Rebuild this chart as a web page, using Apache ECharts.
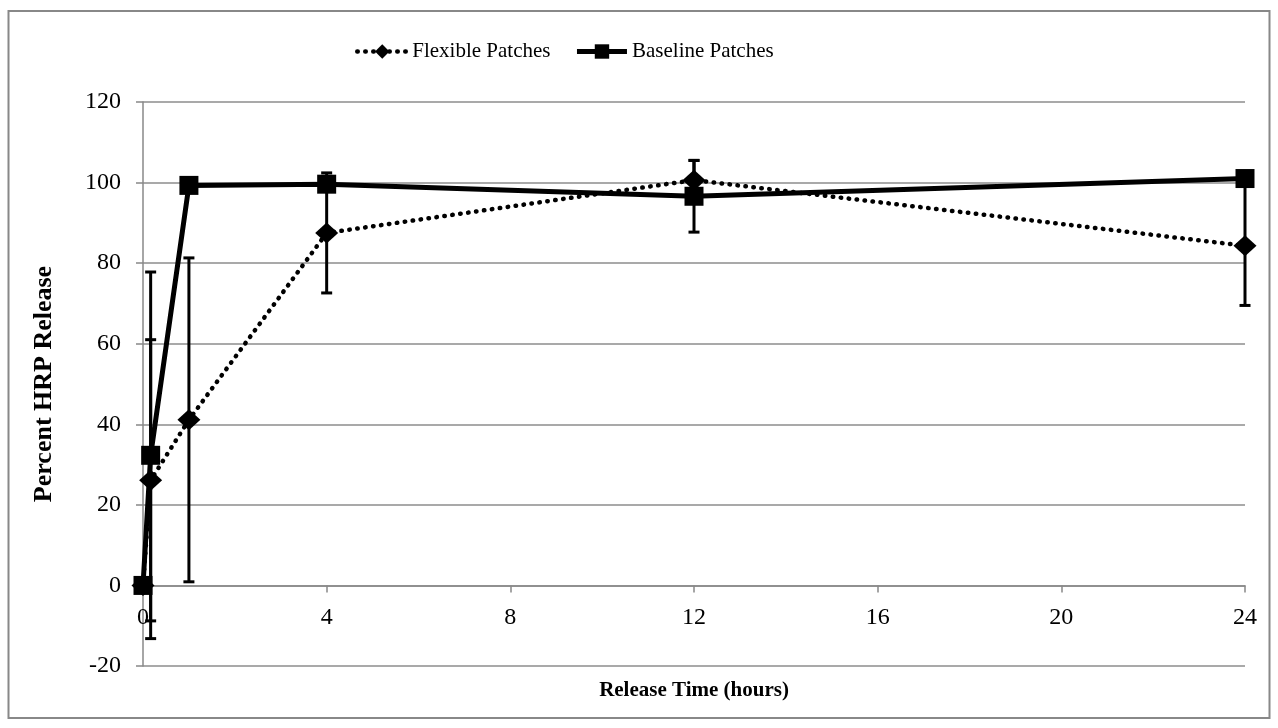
<!DOCTYPE html>
<html>
<head>
<meta charset="utf-8">
<script src="https://cdn.jsdelivr.net/npm/echarts@6/dist/echarts.min.js"></script>
<style>
  html, body { margin: 0; padding: 0; background: #fff; }
  #main { width: 1278px; height: 728px; }
</style>
</head>
<body>
<div id="main"></div>
<script>
  // release times in hours (first sample taken at 10 min)
  var times = [0, 1 / 6, 1, 4, 12, 24];
  var xTicks = [0, 4, 8, 12, 16, 20, 24];

  var flexible = [0, 26.1, 41.1, 87.5, 100.6, 84.3];
  var flexibleErr = [0, 34.9, 40.2, 14.9, 4.9, 14.8];

  var baseline = [0, 32.3, 99.3, 99.6, 96.6, 101.0];
  var baselineErr = [0, 45.5, 1.5, 1.5, 8.9, 1.5];

  var font = 'Liberation Serif';

  function pairs(ys) {
    return times.map(function (t, i) { return [t, ys[i]]; });
  }
  function bars(ys, errs) {
    return times.map(function (t, i) { return [t, ys[i] - errs[i], ys[i] + errs[i]]; });
  }

  function drawErr(params, api) {
    var lo = api.coord([api.value(0), api.value(1)]);
    var hi = api.coord([api.value(0), api.value(2)]);
    var w = 5.5;
    var st = { stroke: '#000', lineWidth: 3 };
    return {
      type: 'group',
      children: [
        { type: 'line', shape: { x1: lo[0], y1: lo[1], x2: hi[0], y2: hi[1] }, style: st },
        { type: 'line', shape: { x1: lo[0] - w, y1: lo[1], x2: lo[0] + w, y2: lo[1] }, style: st },
        { type: 'line', shape: { x1: hi[0] - w, y1: hi[1], x2: hi[0] + w, y2: hi[1] }, style: st }
      ]
    };
  }

  var chart = echarts.init(document.getElementById('main'));

  var option = {
    backgroundColor: '#fff',
    animation: false,
    textStyle: { fontFamily: font, color: '#000' },
    graphic: [{
      type: 'rect',
      shape: { x: 8.5, y: 11, width: 1261, height: 707 },
      style: { fill: null, stroke: '#888', lineWidth: 2 },
      silent: true
    }],
    legend: {
      left: 350,
      top: 36,
      itemWidth: 50,
      itemHeight: 18,
      itemGap: 24,
      textStyle: { fontFamily: font, fontSize: 21, color: '#000' },
      data: [
        { name: 'Flexible Patches', lineStyle: { width: 4.5 } },
        { name: 'Baseline Patches', lineStyle: { width: 5 } }
      ]
    },
    grid: { left: 143, right: 33, top: 102, bottom: 62, outerBoundsMode: 'none' },
    xAxis: {
      type: 'value',
      min: 0,
      max: 24,
      interval: 4,
      name: 'Release Time (hours)',
      nameLocation: 'middle',
      nameGap: 14,
      nameTextStyle: { fontFamily: font, fontSize: 21, fontWeight: 'bold', color: '#000' },
      axisLine: { onZero: true, lineStyle: { color: '#888', width: 1.5 } },
      axisTick: { show: true, length: 7, lineStyle: { color: '#888', width: 1.5 } },
      axisLabel: {
        margin: -60, fontFamily: font, fontSize: 24, color: '#000',
        formatter: function (v) { return xTicks.indexOf(v) >= 0 ? String(v) : ''; }
      },
      splitLine: { show: false }
    },
    yAxis: {
      type: 'value',
      min: -20,
      max: 120,
      interval: 20,
      name: 'Percent HRP Release',
      nameLocation: 'middle',
      nameGap: 86,
      nameTextStyle: { fontFamily: font, fontSize: 26, fontWeight: 'bold', color: '#000' },
      axisLine: { show: true, lineStyle: { color: '#888', width: 1.5 } },
      axisTick: { show: true, length: 7, lineStyle: { color: '#888', width: 1.5 } },
      axisLabel: { margin: 22, fontFamily: font, fontSize: 24, color: '#000' },
      splitLine: { show: true, lineStyle: { color: '#8c8c8c', width: 1.5 } }
    },
    series: [
      {
        name: 'Flexible Patches',
        type: 'line',
        data: pairs(flexible),
        symbol: 'diamond',
        symbolSize: [23, 21],
        itemStyle: { color: '#000' },
        lineStyle: { color: '#000', width: 4.5, type: [0.5, 7.5], cap: 'round' },
        z: 3
      },
      {
        name: 'Baseline Patches',
        type: 'line',
        data: pairs(baseline),
        symbol: 'rect',
        symbolSize: 19,
        itemStyle: { color: '#000' },
        lineStyle: { color: '#000', width: 5 },
        z: 4
      },
      {
        name: 'Flexible error',
        type: 'custom',
        data: bars(flexible, flexibleErr),
        renderItem: drawErr,
        encode: { x: 0, y: [1, 2] },
        z: 5
      },
      {
        name: 'Baseline error',
        type: 'custom',
        data: bars(baseline, baselineErr),
        renderItem: drawErr,
        encode: { x: 0, y: [1, 2] },
        z: 5
      }
    ]
  };

  chart.setOption(option);
</script>
</body>
</html>
